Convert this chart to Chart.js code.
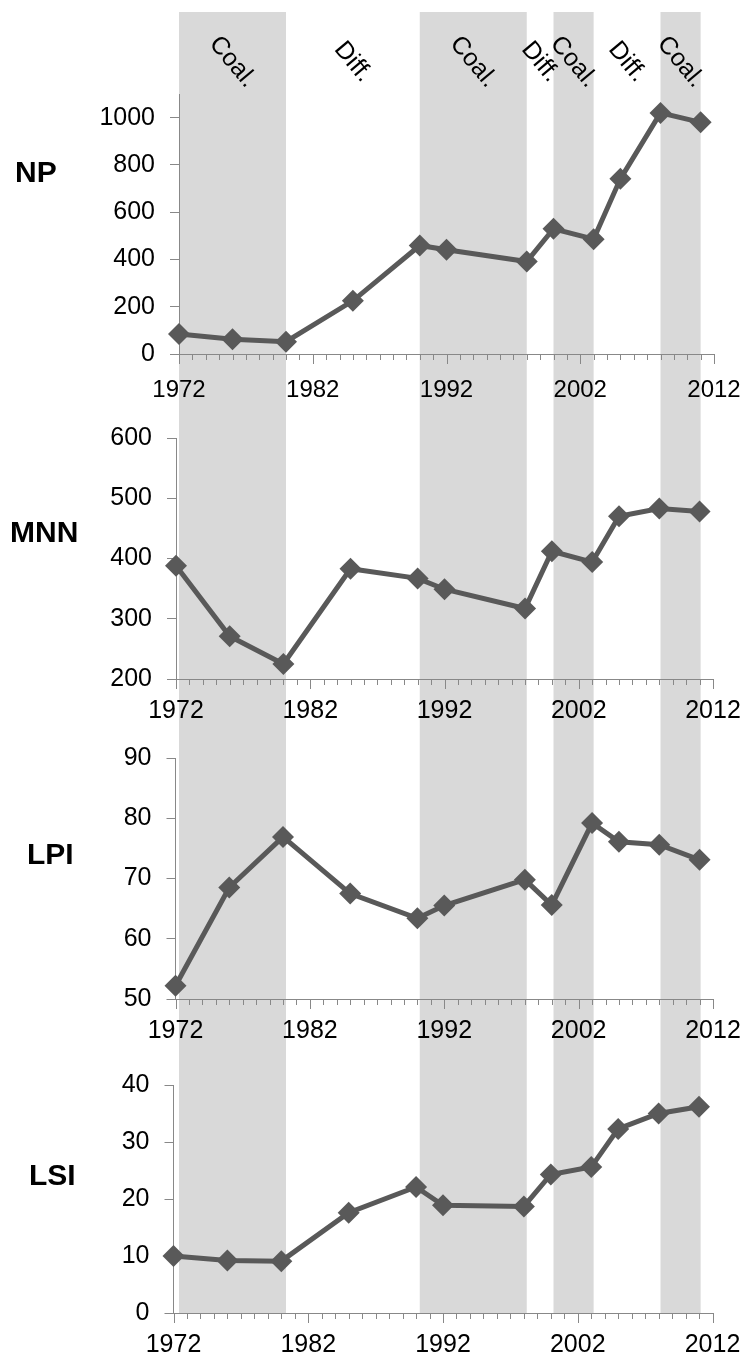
<!DOCTYPE html>
<html>
<head>
<meta charset="utf-8">
<script src="https://cdn.jsdelivr.net/npm/chart.js@4.4.1/dist/chart.umd.min.js"></script>
<style>
  html, body { margin: 0; padding: 0; background: #fff; }
  #wrap { position: relative; width: 746px; height: 1361px; }
  #wrap canvas { position: absolute; left: 0; top: 0; }
</style>
</head>
<body>
<div id="wrap">
  <canvas id="np" width="746" height="1361"></canvas>
  <canvas id="mnn" width="746" height="1361"></canvas>
  <canvas id="lpi" width="746" height="1361"></canvas>
  <canvas id="lsi" width="746" height="1361"></canvas>
</div>
<script>
// data
var years = [1972, 1976, 1980, 1985, 1990, 1992, 1998, 2000, 2003, 2005, 2008, 2011];
var npValues = [85, 62, 52, 225, 459, 441, 391, 530, 486, 741, 1020, 980];
var mnnValues = [388, 271, 225, 383, 367, 349, 317, 412, 394, 470, 483, 478];
var lpiValues = [52.2, 68.5, 76.9, 67.5, 63.4, 65.5, 69.8, 65.6, 79.2, 76.1, 75.6, 73.1];
var lsiValues = [10.0, 9.2, 9.1, 17.6, 22.1, 18.9, 18.7, 24.3, 25.6, 32.3, 35.0, 36.2];

var yearTicks = [1972, 1982, 1992, 2002, 2012];
var npTicks = [0, 200, 400, 600, 800, 1000];
var mnnTicks = [200, 300, 400, 500, 600];
var lpiTicks = [50, 60, 70, 80, 90];
var lsiTicks = [0, 10, 20, 30, 40];

var periodStart = [1972, 1980, 1990, 1998, 2000, 2003, 2008];
var periodEnd = [1980, 1990, 1998, 2000, 2003, 2008, 2011];
var periodLabels = ["Coal.", "Diff.", "Coal.", "Diff.", "Coal.", "Diff.", "Coal."];

var FONT = '"Liberation Sans", Arial, sans-serif';
var axisColor = "#888888";
var lineColor = "#595959";
Chart.defaults.font.family = FONT;
Chart.defaults.color = "#000";

var panels = [
  { id: "np", title: "NP", values: npValues, ticks: npTicks, min: 0, max: 1100,
    left: 179, top: 94, right: 714, bottom: 354, titleX: 15, titleY: 174, xFont: 24, xGap: 36 },
  { id: "mnn", title: "MNN", values: mnnValues, ticks: mnnTicks, min: 200, max: 600,
    left: 176, top: 438, right: 713, bottom: 679, titleX: 10, titleY: 534, xFont: 25, xGap: 32 },
  { id: "lpi", title: "LPI", values: lpiValues, ticks: lpiTicks, min: 50, max: 90,
    left: 175.5, top: 758, right: 713, bottom: 999, titleX: 27, titleY: 856, xFont: 25, xGap: 32 },
  { id: "lsi", title: "LSI", values: lsiValues, ticks: lsiTicks, min: 0, max: 40,
    left: 173.5, top: 1085, right: 712.5, bottom: 1313, titleX: 29, titleY: 1177, xFont: 25, xGap: 32 }
];

// shaded periods + their rotated labels, drawn once behind everything
var bandsPlugin = {
  id: "bands",
  beforeDraw: function (chart) {
    var ctx = chart.ctx, x = chart.scales.x;
    ctx.save();
    ctx.fillStyle = "#d9d9d9";
    for (var i = 0; i < periodLabels.length; i++) {
      if (periodLabels[i] !== "Coal.") continue;
      var x0 = x.getPixelForValue(periodStart[i]);
      var x1 = x.getPixelForValue(periodEnd[i]);
      ctx.fillRect(x0, 12, x1 - x0, 1313 - 12);
    }
    ctx.fillStyle = "#000";
    ctx.font = "25px " + FONT;
    ctx.textAlign = "center";
    ctx.textBaseline = "middle";
    for (var j = 0; j < periodLabels.length; j++) {
      var cx = x.getPixelForValue((periodStart[j] + periodEnd[j]) / 2);
      ctx.save();
      ctx.translate(cx, 62);
      ctx.rotate(50 * Math.PI / 180);
      ctx.fillText(periodLabels[j], 0, 0);
      ctx.restore();
    }
    ctx.restore();
  }
};

// yearly tick marks on the x axis and the panel name on the left
var panelPlugin = {
  id: "panelDecor",
  afterDraw: function (chart, args, opts) {
    var ctx = chart.ctx, x = chart.scales.x, yb = chart.chartArea.bottom;
    ctx.save();
    ctx.strokeStyle = axisColor;
    ctx.lineWidth = 1;
    ctx.beginPath();
    for (var yr = 1972; yr <= 2012; yr++) {
      var px = Math.round(x.getPixelForValue(yr)) + 0.5;
      var len = (yr - 1972) % 10 === 0 ? 10 : 6;
      ctx.moveTo(px, yb);
      ctx.lineTo(px, yb + len);
    }
    ctx.stroke();
    ctx.fillStyle = "#000";
    ctx.font = "bold 30px " + FONT;
    ctx.textAlign = "left";
    ctx.textBaseline = "middle";
    ctx.fillText(opts.title, opts.titleX, opts.titleY);
    ctx.restore();
  }
};

panels.forEach(function (p, idx) {
  var points = years.map(function (yr, i) { return { x: yr, y: p.values[i] }; });
  new Chart(document.getElementById(p.id), {
    type: "line",
    data: {
      datasets: [{
        label: p.title,
        data: points,
        borderColor: lineColor,
        borderWidth: 5,
        backgroundColor: lineColor,
        pointStyle: "rectRot",
        pointRadius: 11,
        pointBackgroundColor: lineColor,
        pointBorderWidth: 0,
        tension: 0,
        clip: false
      }]
    },
    options: {
      responsive: false,
      animation: false,
      events: [],
      layout: {
        autoPadding: false,
        padding: { left: 0, top: p.top, right: 746 - p.right, bottom: 1361 - p.bottom - 50 }
      },
      plugins: {
        legend: { display: false },
        tooltip: { enabled: false },
        panelDecor: { title: p.title, titleX: p.titleX, titleY: p.titleY }
      },
      scales: {
        x: {
          type: "linear",
          min: 1972,
          max: 2012,
          afterBuildTicks: function (s) { s.ticks = yearTicks.map(function (v) { return { value: v }; }); },
          afterFit: function (s) { s.height = 50; s.paddingLeft = 0; s.paddingRight = 0; },
          grid: { display: false, drawTicks: false },
          border: { display: true, color: axisColor, width: 1 },
          ticks: {
            autoSkip: false,
            maxRotation: 0,
            padding: p.xGap - p.xFont / 2,
            font: { size: p.xFont, lineHeight: 1 },
            color: "#000",
            callback: function (v) { return String(v); }
          }
        },
        y: {
          type: "linear",
          min: p.min,
          max: p.max,
          afterBuildTicks: function (s) { s.ticks = p.ticks.map(function (v) { return { value: v }; }); },
          afterFit: function (s) { s.width = p.left; s.paddingTop = 0; s.paddingBottom = 0; },
          grid: { display: true, drawOnChartArea: false, drawTicks: true, tickLength: 9, color: axisColor, tickColor: axisColor },
          border: { display: true, color: axisColor, width: 1 },
          ticks: {
            padding: 15,
            font: { size: 25 },
            color: "#000",
            callback: function (v) { return String(v); }
          }
        }
      }
    },
    plugins: idx === 0 ? [bandsPlugin, panelPlugin] : [panelPlugin]
  });
});
</script>
</body>
</html>
